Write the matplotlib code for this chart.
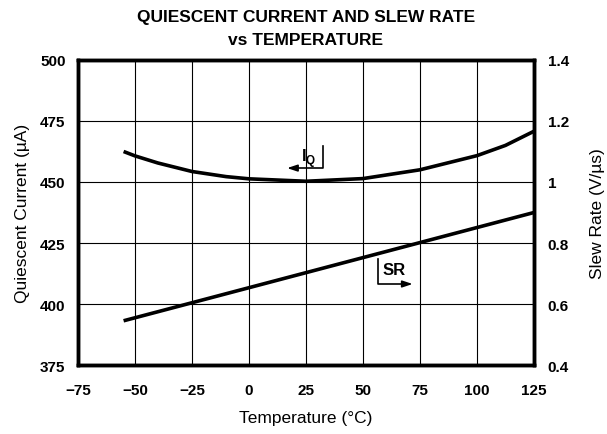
import matplotlib
matplotlib.use("Agg")
import matplotlib.pyplot as plt

plt.rcParams['font.family'] = ['Liberation Sans', 'DejaVu Sans']

temp_iq = [-55, -50, -40, -25, -10, 0, 25, 50, 75, 100, 112.5, 125]
iq_ua = [462.5, 460.7, 457.8, 454.3, 452.2, 451.3, 450.3, 451.4, 455.0, 460.8, 465.0, 470.8]

temp_sr = [-55, 125]
sr_vus = [0.545, 0.90]

x_ticks = [-75, -50, -25, 0, 25, 50, 75, 100, 125]
x_labels = ['\u221275', '\u221250', '\u221225', '0', '25', '50', '75', '100', '125']
left_ticks = [375, 400, 425, 450, 475, 500]
right_ticks = [0.4, 0.6, 0.8, 1.0, 1.2, 1.4]
right_labels = ['0.4', '0.6', '0.8', '1', '1.2', '1.4']

fig = plt.figure(figsize=(6.07, 4.35), dpi=100)
ax = fig.add_axes([0.1285, 0.1586, 0.7512, 0.7012])
ax.set_xlim(-75, 125)
ax.set_ylim(375, 500)
ax.set_xticks(x_ticks)
ax.set_xticklabels(x_labels, fontweight='bold')
ax.set_yticks(left_ticks)
ax.set_yticklabels([str(v) for v in left_ticks], fontweight='bold')
ax.grid(True, color='black', linewidth=0.8)
ax.tick_params(axis='x', length=0, labelsize=11, pad=13)
ax.tick_params(axis='y', length=0, labelsize=11, pad=9)
for s in ax.spines.values():
    s.set_linewidth(2.5)

ax.plot(temp_iq, iq_ua, color='black', linewidth=2.6, solid_capstyle='butt')

ax2 = ax.twinx()
ax2.set_ylim(0.4, 1.4)
ax2.set_yticks(right_ticks)
ax2.set_yticklabels(right_labels, fontweight='bold')
ax2.tick_params(length=0, labelsize=11, pad=10)
for s in ax2.spines.values():
    s.set_linewidth(2.5)
ax2.plot(temp_sr, sr_vus, color='black', linewidth=2.6, solid_capstyle='butt')

# I_Q annotation
ax.plot([32.5, 32.5, 20], [464.8, 455.7, 455.7], color='black', linewidth=1.2)
ax.annotate('', xy=(15.5, 455.7), xytext=(21, 455.7),
            arrowprops=dict(arrowstyle='-|>,head_length=0.6,head_width=0.2', color='black', lw=1.2))
ax.text(26.0, 460.0, 'I$_\\mathregular{Q}$', ha='center', va='center', fontsize=12, fontweight='bold')

# SR annotation
ax.plot([56.6, 56.6, 68], [418.4, 408.2, 408.2], color='black', linewidth=1.2)
ax.annotate('', xy=(73, 408.2), xytext=(67, 408.2),
            arrowprops=dict(arrowstyle='-|>,head_length=0.6,head_width=0.2', color='black', lw=1.2))
ax.text(63.8, 414.0, 'SR', ha='center', va='center', fontsize=12, fontweight='bold')

ax.set_xlabel('Temperature (\u00b0C)', fontsize=12.5, labelpad=9)
ax.set_ylabel('Quiescent Current (\u00b5A)', fontsize=12.5, labelpad=7)
ax2.set_ylabel('Slew Rate (V/\u00b5s)', fontsize=12.5, labelpad=15)

fig.text(0.504, 0.960, 'QUIESCENT CURRENT AND SLEW RATE', ha='center', va='center',
         fontsize=12.5, fontweight='bold')
fig.text(0.504, 0.906, 'vs TEMPERATURE', ha='center', va='center',
         fontsize=12.5, fontweight='bold')

fig.savefig('out.png', dpi=100)
